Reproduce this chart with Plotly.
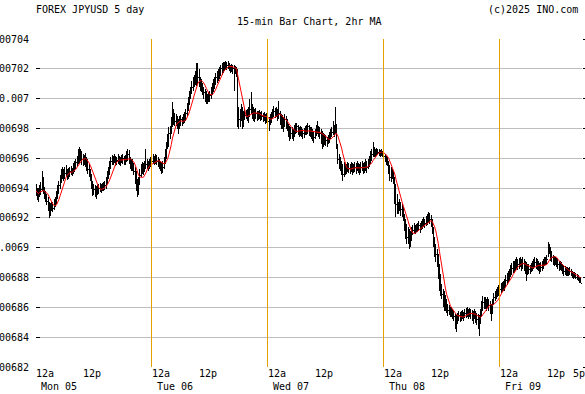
import pandas as pd
import plotly.graph_objects as go

# JPYUSD prices in units of 1e-7 (e.g. 69380 -> 0.0069380), one value per 15-min bar
UNIT = 1e-7
HIGH_E7 = [
    69427, 69400, 69393, 69420, 69440, 69514, 69474, 69407, 69380, 69360, 69340, 69306,
    69300, 69313, 69306, 69326, 69340, 69380, 69420, 69447, 69487, 69528, 69541, 69528,
    69541, 69555, 69528, 69534, 69541, 69548, 69534, 69568, 69581, 69595, 69615, 69662,
    69675, 69662, 69648, 69628, 69622, 69635, 69608, 69595, 69561, 69528, 69494, 69447,
    69427, 69420, 69414, 69420, 69427, 69434, 69427, 69434, 69440, 69447, 69474, 69514,
    69541, 69581, 69608, 69622, 69615, 69628, 69615, 69608, 69628, 69615, 69608, 69622,
    69628, 69615, 69622, 69648, 69662, 69655, 69608, 69595, 69595, 69568, 69541, 69514,
    69461, 69474, 69528, 69561, 69575, 69568, 69581, 69662, 69595, 69581, 69595, 69608,
    69622, 69628, 69615, 69628, 69622, 69608, 69595, 69581, 69575, 69581, 69608, 69662,
    69709, 69763, 69810, 69816, 69877, 69977, 69930, 69903, 69897, 69883, 69863, 69883,
    69890, 69877, 69897, 69910, 69930, 69970, 70011, 70051, 70078, 70118, 70145, 70158,
    70185, 70239, 70239, 70199, 70145, 70132, 70105, 70078, 70064, 70051, 70031, 70044,
    70051, 70078, 70105, 70132, 70145, 70172, 70185, 70199, 70212, 70225, 70239, 70245,
    70245, 70252, 70245, 70252, 70239, 70225, 70232, 70225, 70225, 70219, 70212, 70199,
    69944, 69930, 69964, 69944, 69917, 69930, 69924, 69930, 69944, 69997, 70044, 69964,
    69944, 69930, 69937, 69917, 69917, 69924, 69910, 69917, 69903, 69910, 69897, 69903,
    69890, 69877, 69897, 69910, 69930, 69950, 69937, 69944, 69930, 69984, 69917, 69897,
    69890, 69877, 69897, 69883, 69863, 69830, 69816, 69810, 69810, 69796, 69823, 69836,
    69836, 69823, 69810, 69816, 69810, 69796, 69803, 69816, 69823, 69836, 69823, 69810,
    69810, 69796, 69783, 69796, 69823, 69850, 69816, 69810, 69796, 69783, 69769, 69763,
    69756, 69742, 69756, 69776, 69796, 69810, 69850, 69823, 69944, 69830, 69695, 69628,
    69608, 69581, 69561, 69575, 69568, 69561, 69575, 69568, 69561, 69575, 69568, 69561,
    69575, 69568, 69581, 69568, 69561, 69575, 69581, 69568, 69575, 69595, 69581, 69595,
    69615, 69648, 69662, 69709, 69675, 69662, 69669, 69662, 69662, 69655, 69662, 69648,
    69642, 69628, 69615, 69608, 69581, 69555, 69541, 69528, 69514, 69474, 69427, 69360,
    69306, 69326, 69306, 69293, 69273, 69226, 69192, 69159, 69138, 69125, 69112, 69138,
    69152, 69165, 69152, 69159, 69165, 69179, 69165, 69179, 69192, 69206, 69192, 69213,
    69226, 69239, 69233, 69219, 69192, 69138, 69071, 69024, 68991, 68957, 68890, 68823,
    68756, 68722, 68709, 68682, 68655, 68621, 68615, 68601, 68601, 68588, 68574, 68554,
    68548, 68561, 68574, 68568, 68574, 68581, 68568, 68588, 68595, 68601, 68588, 68595,
    68588, 68581, 68574, 68588, 68574, 68561, 68554, 68548, 68588, 68642, 68675, 68668,
    68668, 68655, 68668, 68655, 68642, 68621, 68655, 68695, 68709, 68722, 68735, 68749,
    68756, 68762, 68769, 68776, 68789, 68816, 68829, 68843, 68856, 68883, 68897, 68910,
    68910, 68924, 68937, 68924, 68930, 68937, 68924, 68937, 68924, 68910, 68903, 68890,
    68890, 68883, 68897, 68910, 68924, 68937, 68930, 68924, 68910, 68897, 68903, 68910,
    68924, 68937, 68937, 68950, 69038, 69024, 69004, 68977, 68950, 68943, 68937, 68930,
    68924, 68910, 68910, 68903, 68890, 68883, 68876, 68870, 68870, 68863, 68870, 68856,
    68843, 68836, 68836, 68829, 68823, 68816, 68803, 68803,
]
LOW_E7 = [
    69347, 69320, 69306, 69340, 69353, 69380, 69360, 69326, 69306, 69286, 69246, 69199,
    69213, 69246, 69239, 69253, 69273, 69293, 69326, 69360, 69393, 69434, 69461, 69447,
    69461, 69474, 69454, 69461, 69474, 69487, 69481, 69494, 69508, 69528, 69541, 69561,
    69568, 69581, 69555, 69548, 69555, 69541, 69514, 69494, 69474, 69447, 69393, 69347,
    69353, 69340, 69326, 69353, 69360, 69373, 69367, 69380, 69380, 69387, 69393, 69427,
    69461, 69487, 69528, 69555, 69555, 69568, 69548, 69555, 69561, 69555, 69548, 69568,
    69561, 69555, 69555, 69575, 69581, 69561, 69528, 69514, 69514, 69487, 69427, 69380,
    69340, 69353, 69420, 69474, 69494, 69487, 69508, 69528, 69528, 69514, 69528, 69541,
    69541, 69561, 69555, 69561, 69555, 69541, 69528, 69514, 69494, 69501, 69528, 69561,
    69595, 69662, 69675, 69729, 69763, 69810, 69823, 69816, 69816, 69796, 69763, 69796,
    69816, 69816, 69830, 69836, 69850, 69883, 69917, 69957, 69997, 70031, 70051, 70078,
    70091, 70085, 70098, 70078, 70051, 70044, 70024, 69997, 69977, 69964, 69964, 69977,
    69977, 69997, 70024, 70044, 70064, 70091, 70105, 70118, 70132, 70152, 70158, 70172,
    70185, 70199, 70192, 70199, 70185, 70172, 70178, 70165, 70051, 70165, 70145, 69810,
    69796, 69810, 69850, 69796, 69810, 69857, 69863, 69850, 69836, 69877, 69897, 69863,
    69850, 69843, 69863, 69850, 69857, 69863, 69850, 69857, 69843, 69850, 69830, 69836,
    69810, 69783, 69823, 69836, 69863, 69877, 69870, 69877, 69850, 69863, 69823, 69796,
    69796, 69776, 69810, 69796, 69783, 69742, 69716, 69729, 69729, 69716, 69742, 69763,
    69769, 69756, 69742, 69749, 69742, 69729, 69736, 69756, 69756, 69763, 69749, 69742,
    69729, 69716, 69702, 69729, 69749, 69763, 69742, 69729, 69695, 69662, 69675, 69689,
    69682, 69675, 69695, 69702, 69729, 69742, 69756, 69742, 69763, 69662, 69561, 69528,
    69514, 69487, 69447, 69474, 69487, 69494, 69508, 69501, 69494, 69508, 69487, 69501,
    69508, 69494, 69514, 69501, 69487, 69501, 69514, 69494, 69501, 69514, 69501, 69528,
    69541, 69561, 69581, 69608, 69608, 69608, 69615, 69622, 69615, 69608, 69615, 69608,
    69595, 69575, 69555, 69548, 69494, 69447, 69440, 69461, 69427, 69293, 69206, 69226,
    69226, 69246, 69213, 69206, 69179, 69112, 69058, 69024, 69024, 68991, 69004, 69044,
    69085, 69098, 69091, 69105, 69105, 69112, 69098, 69118, 69125, 69138, 69132, 69145,
    69152, 69165, 69159, 69138, 69091, 69004, 68937, 68903, 68870, 68789, 68709, 68675,
    68655, 68601, 68574, 68574, 68561, 68541, 68548, 68534, 68534, 68521, 68507, 68453,
    68433, 68487, 68507, 68501, 68507, 68521, 68507, 68527, 68527, 68534, 68521, 68534,
    68521, 68507, 68487, 68521, 68494, 68480, 68453, 68406, 68487, 68534, 68574, 68588,
    68588, 68574, 68595, 68574, 68554, 68507, 68554, 68615, 68642, 68655, 68668, 68675,
    68682, 68695, 68702, 68709, 68709, 68735, 68749, 68762, 68776, 68803, 68816, 68829,
    68829, 68843, 68856, 68850, 68856, 68870, 68843, 68856, 68843, 68823, 68776, 68816,
    68823, 68823, 68836, 68843, 68856, 68870, 68856, 68850, 68843, 68823, 68836, 68843,
    68856, 68876, 68883, 68883, 68937, 68957, 68910, 68903, 68883, 68876, 68883, 68870,
    68856, 68843, 68850, 68843, 68823, 68809, 68816, 68809, 68809, 68809, 68816, 68809,
    68796, 68789, 68796, 68789, 68783, 68776, 68762, 68762,
]
CLOSE_E7 = [
    69380, 69360, 69353, 69393, 69393, 69427, 69380, 69353, 69333, 69313, 69273, 69246,
    69259, 69286, 69266, 69300, 69313, 69353, 69393, 69420, 69461, 69494, 69514, 69487,
    69501, 69528, 69487, 69508, 69514, 69521, 69508, 69541, 69555, 69575, 69595, 69608,
    69628, 69608, 69595, 69581, 69595, 69575, 69555, 69528, 69508, 69474, 69427, 69393,
    69393, 69373, 69380, 69393, 69400, 69407, 69393, 69407, 69414, 69420, 69447, 69487,
    69514, 69555, 69581, 69595, 69588, 69601, 69581, 69588, 69595, 69581, 69575, 69595,
    69601, 69581, 69595, 69608, 69622, 69595, 69568, 69555, 69541, 69514, 69461, 69420,
    69393, 69427, 69487, 69528, 69541, 69528, 69548, 69561, 69561, 69555, 69568, 69581,
    69581, 69595, 69588, 69601, 69581, 69575, 69555, 69541, 69528, 69541, 69581, 69628,
    69675, 69729, 69763, 69783, 69830, 69897, 69863, 69850, 69863, 69830, 69810, 69850,
    69857, 69850, 69870, 69877, 69897, 69944, 69977, 70017, 70051, 70078, 70111, 70118,
    70132, 70165, 70145, 70118, 70098, 70078, 70064, 70038, 70011, 69997, 69997, 70017,
    70024, 70051, 70078, 70098, 70118, 70145, 70158, 70172, 70185, 70199, 70212, 70219,
    70219, 70232, 70219, 70225, 70212, 70199, 70205, 70199, 70185, 70199, 70185, 69877,
    69863, 69877, 69917, 69836, 69877, 69890, 69897, 69883, 69897, 69930, 69944, 69903,
    69890, 69883, 69903, 69877, 69890, 69897, 69877, 69883, 69870, 69877, 69863, 69870,
    69850, 69830, 69863, 69877, 69903, 69917, 69903, 69910, 69890, 69897, 69863, 69836,
    69850, 69823, 69863, 69836, 69823, 69783, 69763, 69769, 69769, 69756, 69796, 69796,
    69810, 69796, 69776, 69783, 69776, 69763, 69769, 69789, 69789, 69810, 69796, 69776,
    69769, 69756, 69742, 69763, 69789, 69810, 69783, 69769, 69742, 69716, 69729, 69722,
    69716, 69709, 69729, 69742, 69763, 69776, 69796, 69783, 69830, 69695, 69595, 69561,
    69555, 69528, 69494, 69528, 69528, 69534, 69541, 69534, 69528, 69548, 69528, 69534,
    69541, 69528, 69548, 69534, 69528, 69541, 69548, 69528, 69541, 69561, 69541, 69568,
    69581, 69608, 69628, 69648, 69642, 69635, 69648, 69642, 69642, 69635, 69642, 69628,
    69615, 69595, 69581, 69568, 69528, 69474, 69494, 69487, 69461, 69360, 69293, 69293,
    69273, 69286, 69259, 69246, 69226, 69159, 69112, 69071, 69085, 69058, 69071, 69105,
    69118, 69138, 69125, 69138, 69138, 69152, 69132, 69152, 69159, 69179, 69165, 69179,
    69192, 69206, 69192, 69179, 69125, 69058, 68991, 68957, 68910, 68823, 68756, 68722,
    68689, 68655, 68621, 68615, 68601, 68581, 68574, 68568, 68568, 68554, 68541, 68521,
    68507, 68534, 68548, 68534, 68548, 68554, 68541, 68561, 68568, 68574, 68554, 68568,
    68561, 68548, 68534, 68554, 68534, 68521, 68507, 68521, 68554, 68601, 68635, 68628,
    68628, 68615, 68635, 68615, 68601, 68574, 68621, 68668, 68682, 68689, 68709, 68715,
    68722, 68729, 68735, 68749, 68756, 68783, 68796, 68809, 68823, 68850, 68863, 68876,
    68876, 68890, 68903, 68890, 68897, 68910, 68883, 68897, 68883, 68870, 68856, 68856,
    68856, 68856, 68870, 68876, 68890, 68903, 68897, 68883, 68876, 68856, 68870, 68876,
    68890, 68910, 68910, 68924, 68991, 68977, 68950, 68937, 68917, 68910, 68910, 68897,
    68890, 68876, 68876, 68870, 68856, 68843, 68843, 68836, 68836, 68829, 68843, 68829,
    68816, 68809, 68816, 68803, 68796, 68789, 68776, 68762,
]

START = "2025-05-05 00:00"
END = "2025-05-09 17:00"
BAR_MINUTES = 15
MA_BARS = 8  # 2 hours of 15-min bars

Y_TICK_VALS = [0.00682, 0.00684, 0.00686, 0.00688, 0.00690, 0.00692,
               0.00694, 0.00696, 0.00698, 0.00700, 0.00702, 0.00704]
Y_TICK_TEXT = ["0.00682", "0.00684", "0.00686", "0.00688", "0.0069", "0.00692",
               "0.00694", "0.00696", "0.00698", "0.007", "0.00702", "0.00704"]
MIDNIGHT_TIMES = ["2025-05-05 00:00", "2025-05-06 00:00", "2025-05-07 00:00",
                  "2025-05-08 00:00", "2025-05-09 00:00"]
MIDNIGHT_TEXT = "12a"
NOON_TIMES = ["2025-05-05 12:00", "2025-05-06 12:00", "2025-05-07 12:00",
              "2025-05-08 12:00", "2025-05-09 12:00"]
NOON_TEXT = "12p"
CLOSE_TIME = "2025-05-09 17:00"
CLOSE_TEXT = "5p"
DAY_TEXT = ["Mon 05", "Tue 06", "Wed 07", "Thu 08", "Fri 09"]
SEPARATOR_TIMES = ["2025-05-06 00:00", "2025-05-07 00:00", "2025-05-08 00:00",
                   "2025-05-09 00:00", "2025-05-09 17:00"]

TITLE_LEFT = "FOREX JPYUSD 5 day"
TITLE_MID = "15-min Bar Chart, 2hr MA"
TITLE_RIGHT = "(c)2025 INO.com"

FONT = dict(family="DejaVu Sans Mono", size=10, color="black")

times = pd.date_range(START, periods=len(HIGH_E7), freq=f"{BAR_MINUTES}min")
high = [v * UNIT for v in HIGH_E7]
low = [v * UNIT for v in LOW_E7]
close = [v * UNIT for v in CLOSE_E7]
ma = pd.Series(close).rolling(MA_BARS, min_periods=1).mean()

bx, by = [], []
tick = pd.Timedelta(minutes=10)
for t, h, l, c in zip(times, high, low, close):
    bx += [t, t, None, t, t + tick, None]
    by += [l, h, None, c, c, None]

fig = go.Figure()
fig.add_trace(go.Scatter(x=bx, y=by, mode="lines", line=dict(color="black", width=1),
                         hoverinfo="skip", showlegend=False))
fig.add_trace(go.Scatter(x=times, y=ma, mode="lines", line=dict(color="#ff0000", width=1),
                         showlegend=False))
fig.add_trace(go.Scatter(x=[times[0]], y=[None], yaxis="y2", mode="lines",
                         showlegend=False, hoverinfo="skip"))

shapes = [dict(type="line", xref="x", yref="paper", x0=t, x1=t, y0=0, y1=1,
               line=dict(color="#e8a000", width=1), layer="above")
          for t in SEPARATOR_TIMES]

ann = []
ann.append(dict(text=TITLE_LEFT, xref="paper", yref="paper", x=0, y=1, xanchor="left",
                yanchor="middle", xshift=-2, yshift=30, showarrow=False, font=FONT))
ann.append(dict(text=TITLE_MID, xref="paper", yref="paper", x=0.5, y=1, xanchor="center",
                yanchor="middle", yshift=18, showarrow=False, font=FONT))
ann.append(dict(text=TITLE_RIGHT, xref="paper", yref="paper", x=1, y=1, xanchor="right",
                yanchor="middle", xshift=-2, yshift=30, showarrow=False, font=FONT))
for t in MIDNIGHT_TIMES:
    ann.append(dict(text=MIDNIGHT_TEXT, xref="x", yref="paper", x=t, y=0, xanchor="left",
                    yanchor="middle", xshift=-2, yshift=-6, showarrow=False, font=FONT))
for t in NOON_TIMES:
    ann.append(dict(text=NOON_TEXT, xref="x", yref="paper", x=t, y=0, xanchor="center",
                    yanchor="middle", xshift=-2, yshift=-6, showarrow=False, font=FONT))
ann.append(dict(text=CLOSE_TEXT, xref="x", yref="paper", x=CLOSE_TIME, y=0, xanchor="right",
                yanchor="middle", xshift=5, yshift=-6, showarrow=False, font=FONT))
for t, txt in zip(MIDNIGHT_TIMES, DAY_TEXT):
    ann.append(dict(text=txt, xref="x", yref="paper", x=t, y=0, xanchor="left",
                    yanchor="middle", xshift=3, yshift=-19.5, showarrow=False, font=FONT))

fig.update_layout(
    width=585, height=394,
    margin=dict(l=36, r=3, t=39, b=27, pad=0),
    paper_bgcolor="white", plot_bgcolor="white",
    font=FONT, showlegend=False,
    shapes=shapes, annotations=ann,
    xaxis=dict(type="date", range=[START, END], showgrid=False, showticklabels=False,
               ticks="", zeroline=False, showline=False, fixedrange=True),
    yaxis=dict(range=[Y_TICK_VALS[0], Y_TICK_VALS[-1]], tickmode="array",
               tickvals=Y_TICK_VALS, ticktext=Y_TICK_TEXT, ticks="inside", ticklen=4,
               tickcolor="black", tickwidth=1, showgrid=True, gridcolor="#bebebe",
               gridwidth=1, zeroline=False, showline=False, automargin=False,
               tickfont=FONT, ticklabelstandoff=6),
    yaxis2=dict(overlaying="y", side="right", range=[Y_TICK_VALS[0], Y_TICK_VALS[-1]],
                tickmode="array", tickvals=Y_TICK_VALS, ticks="outside", ticklen=3,
                tickcolor="black", showticklabels=False, showgrid=False,
                zeroline=False, showline=False, automargin=False),
)

POST = (
    "document.documentElement.style.margin='0';"
    "document.body.style.margin='0';"
    "document.body.style.overflow='hidden';"
    "var s=document.createElement('style');"
    "s.textContent='.shapelayer path{shape-rendering:crispEdges}"
    " .scatterlayer .trace:first-child path.js-line{shape-rendering:crispEdges}';"
    "document.head.appendChild(s);"
)

fig.write_html("out.html", post_script=POST,
               config={"displayModeBar": False, "staticPlot": True})
